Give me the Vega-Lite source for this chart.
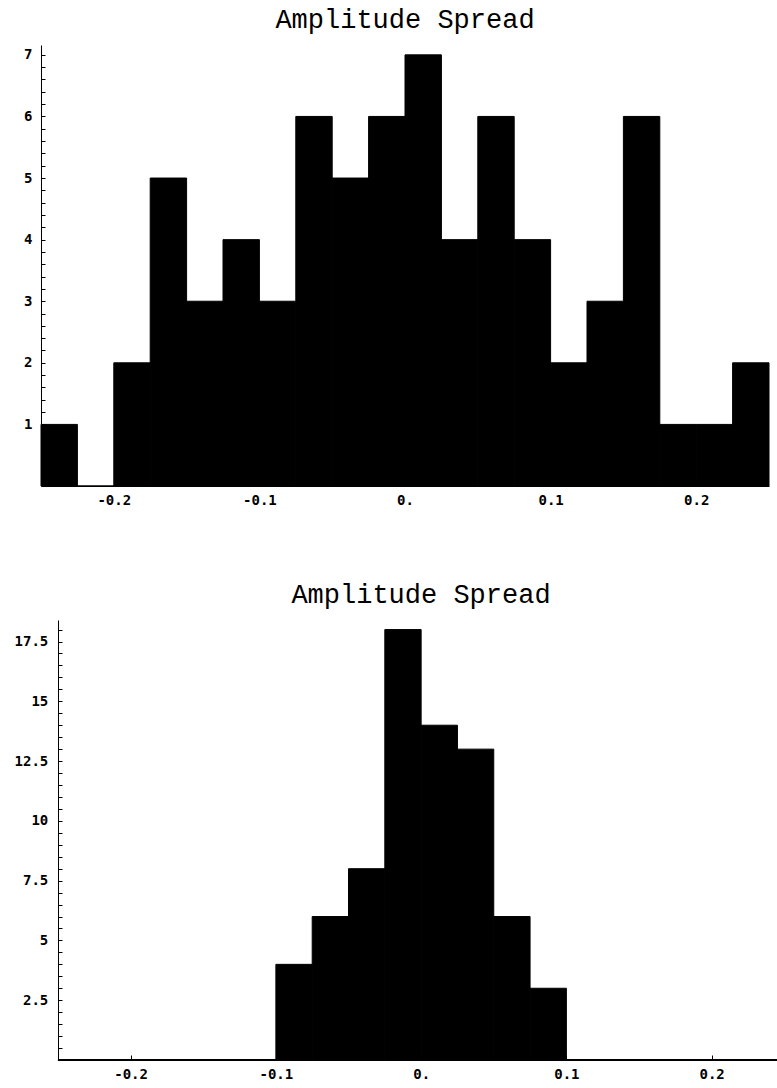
{
  "$schema": "https://vega.github.io/schema/vega-lite/v6.json",
  "background": "white",
  "padding": {"left": 14, "top": 6, "right": 0, "bottom": 0},
  "spacing": 74,
  "config": {
    "view": {"stroke": null},
    "axis": {
      "grid": false,
      "domainColor": "black",
      "domainWidth": 1,
      "tickColor": "black",
      "tickWidth": 1,
      "labelColor": "black",
      "labelFont": "DejaVu Sans Mono",
      "labelFontWeight": "bold",
      "labelFontSize": 14,
      "zindex": 0,
      "minExtent": 0,
      "title": null
    },
    "title": {
      "font": "Liberation Mono",
      "fontSize": 27,
      "fontWeight": "normal",
      "color": "black",
      "offset": 11,
      "anchor": "middle"
    }
  },
  "datasets": {
    "top": [
      {"start": -0.25, "end": -0.225, "count": 1},
      {"start": -0.225, "end": -0.2, "count": 0},
      {"start": -0.2, "end": -0.175, "count": 2},
      {"start": -0.175, "end": -0.15, "count": 5},
      {"start": -0.15, "end": -0.125, "count": 3},
      {"start": -0.125, "end": -0.1, "count": 4},
      {"start": -0.1, "end": -0.075, "count": 3},
      {"start": -0.075, "end": -0.05, "count": 6},
      {"start": -0.05, "end": -0.025, "count": 5},
      {"start": -0.025, "end": 0, "count": 6},
      {"start": 0, "end": 0.025, "count": 7},
      {"start": 0.025, "end": 0.05, "count": 4},
      {"start": 0.05, "end": 0.075, "count": 6},
      {"start": 0.075, "end": 0.1, "count": 4},
      {"start": 0.1, "end": 0.125, "count": 2},
      {"start": 0.125, "end": 0.15, "count": 3},
      {"start": 0.15, "end": 0.175, "count": 6},
      {"start": 0.175, "end": 0.2, "count": 1},
      {"start": 0.2, "end": 0.225, "count": 1},
      {"start": 0.225, "end": 0.25, "count": 2}
    ],
    "bottom": [
      {"start": -0.25, "end": -0.225, "count": 0},
      {"start": -0.225, "end": -0.2, "count": 0},
      {"start": -0.2, "end": -0.175, "count": 0},
      {"start": -0.175, "end": -0.15, "count": 0},
      {"start": -0.15, "end": -0.125, "count": 0},
      {"start": -0.125, "end": -0.1, "count": 0},
      {"start": -0.1, "end": -0.075, "count": 4},
      {"start": -0.075, "end": -0.05, "count": 6},
      {"start": -0.05, "end": -0.025, "count": 8},
      {"start": -0.025, "end": 0, "count": 18},
      {"start": 0, "end": 0.025, "count": 14},
      {"start": 0.025, "end": 0.05, "count": 13},
      {"start": 0.05, "end": 0.075, "count": 6},
      {"start": 0.075, "end": 0.1, "count": 3},
      {"start": 0.1, "end": 0.125, "count": 0},
      {"start": 0.125, "end": 0.15, "count": 0},
      {"start": 0.15, "end": 0.175, "count": 0},
      {"start": 0.175, "end": 0.2, "count": 0},
      {"start": 0.2, "end": 0.225, "count": 0}
    ]
  },
  "vconcat": [
    {
      "title": {"text": "Amplitude Spread"},
      "width": 728,
      "height": 441,
      "data": {"name": "top"},
      "mark": {"type": "rect", "color": "black", "stroke": "black", "strokeWidth": 1},
      "encoding": {
        "x": {
          "field": "start", "type": "quantitative",
          "scale": {"domain": [-0.25, 0.25], "nice": false, "zero": false},
          "axis": {
            "values": [-0.2, -0.1, 0, 0.1, 0.2],
            "tickSize": -5,
            "labelPadding": 12,
            "labelExpr": "datum.value == 0 ? '0.' : (datum.value < 0 ? '-' : '') + format(abs(datum.value), '.1f')"
          }
        },
        "x2": {"field": "end"},
        "y": {
          "field": "count", "type": "quantitative",
          "scale": {"domain": [0, 7.16], "nice": false},
          "axis": {
            "values": [0.2,0.4,0.6,0.8,1,1.2,1.4,1.6,1.8,2,2.2,2.4,2.6,2.8,3,3.2,3.4,3.6,3.8,4,4.2,4.4,4.6,4.8,5,5.2,5.4,5.6,5.8,6,6.2,6.4,6.6,6.8,7],
            "tickSize": -4,
            "labelPadding": 13,
            "labelExpr": "abs(datum.value - round(datum.value)) < 0.001 ? toString(round(datum.value)) : ''"
          }
        },
        "y2": {"datum": 0}
      }
    },
    {
      "title": {"text": "Amplitude Spread", "dx": 12},
      "width": 736,
      "height": 440,
      "data": {"name": "bottom"},
      "encoding": {
        "x": {
          "field": "start", "type": "quantitative",
          "scale": {"domain": [-0.2617, 0.245], "nice": false, "zero": false},
          "axis": {
            "values": [-0.2, -0.1, 0, 0.1, 0.2],
            "domain": false,
            "tickSize": -5,
            "labelPadding": 12,
            "labelExpr": "datum.value == 0 ? '0.' : (datum.value < 0 ? '-' : '') + format(abs(datum.value), '.1f')"
          }
        },
        "y": {
          "field": "count", "type": "quantitative",
          "scale": {"domain": [0, 18.4], "nice": false},
          "axis": {
            "values": [0.5,1,1.5,2,2.5,3,3.5,4,4.5,5,5.5,6,6.5,7,7.5,8,8.5,9,9.5,10,10.5,11,11.5,12,12.5,13,13.5,14,14.5,15,15.5,16,16.5,17,17.5,18],
            "offset": -17,
            "tickSize": -4,
            "labelPadding": 14.2,
            "labelExpr": "abs(datum.value / 2.5 - round(datum.value / 2.5)) < 0.001 ? toString(datum.value) : ''"
          }
        }
      },
      "layer": [
        {
          "mark": {"type": "rect", "color": "black", "stroke": "black", "strokeWidth": 1, "clip": true},
          "encoding": {
            "x2": {"field": "end"},
            "y2": {"datum": 0}
          }
        },
        {
          "mark": {"type": "rule", "color": "black", "strokeWidth": 1},
          "encoding": {
            "x": {"datum": -0.25, "type": "quantitative"},
            "x2": {"datum": 0.245},
            "y": {"datum": 0, "type": "quantitative"}
          }
        }
      ]
    }
  ]
}
